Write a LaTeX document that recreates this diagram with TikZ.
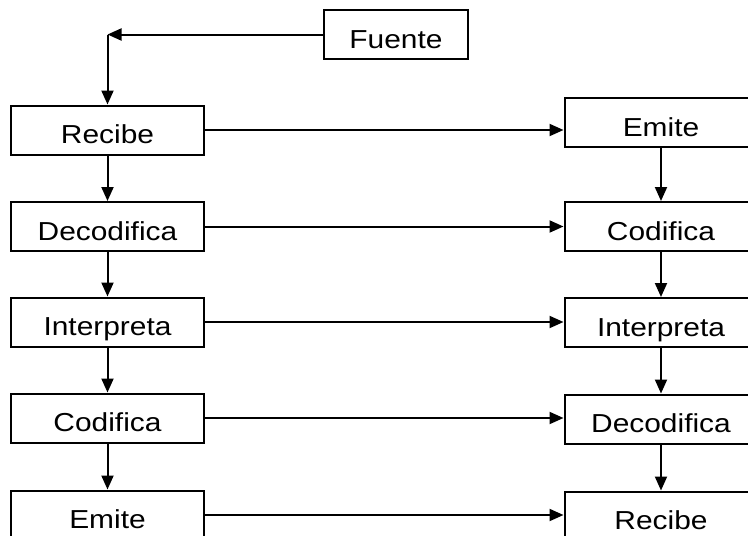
\documentclass[tikz,border=0pt]{standalone}
\usepackage{fontspec}
\setmainfont{Liberation Sans}
\usepackage{graphicx}
\usetikzlibrary{arrows.meta}
\newcommand{\wide}[1]{\scalebox{1.15}[1]{#1}}
\begin{document}
\begin{tikzpicture}[x=1pt,y=-1pt,
  box/.style={draw,line width=2pt,minimum width=193pt,minimum height=49pt,inner sep=0pt,
    text height=27pt,text depth=0pt,font=\fontsize{26}{30}\selectfont},
  conn/.style={line width=2pt,-{Triangle[length=14pt,width=12pt]}}]
\useasboundingbox (0,0) rectangle (748,536);
\clip (0,0) rectangle (748,536);
% source
\node[box,minimum width=144pt] (fuente) at (396,34.5) {\wide{Fuente}};
% left column
\node[box] (l1) at (107.5,130)   {\wide{Recibe}};
\node[box] (l2) at (107.5,226.5) {\wide{Decodifica}};
\node[box] (l3) at (107.5,322)   {\wide{Interpreta}};
\node[box] (l4) at (107.5,418)   {\wide{Codifica}};
\node[box] (l5) at (107.5,515)   {\wide{Emite}};
% right column
\node[box] (r1) at (661,122.5) {\wide{Emite}};
\node[box] (r2) at (661,226.5) {\wide{Codifica}};
\node[box] (r3) at (661,322.5) {\wide{Interpreta}};
\node[box] (r4) at (661,419)   {\wide{Decodifica}};
\node[box] (r5) at (661,516)   {\wide{Recibe}};
% source connector
\coordinate (corner) at (l1.north |- fuente.west);
\draw[conn] (fuente.west) -- (corner);
\draw[conn] (corner) -- (l1.north);
% vertical arrows
\draw[conn] (l1) -- (l2);
\draw[conn] (l2) -- (l3);
\draw[conn] (l3) -- (l4);
\draw[conn] (l4) -- (l5);
\draw[conn] (r1) -- (r2);
\draw[conn] (r2) -- (r3);
\draw[conn] (r3) -- (r4);
\draw[conn] (r4) -- (r5);
% horizontal arrows
\draw[conn] (l1.east) -- (r1.west |- l1.east);
\draw[conn] (l2.east) -- (r2.west |- l2.east);
\draw[conn] (l3.east) -- (r3.west |- l3.east);
\draw[conn] (l4.east) -- (r4.west |- l4.east);
\draw[conn] (l5.east) -- (r5.west |- l5.east);
\end{tikzpicture}
\end{document}
